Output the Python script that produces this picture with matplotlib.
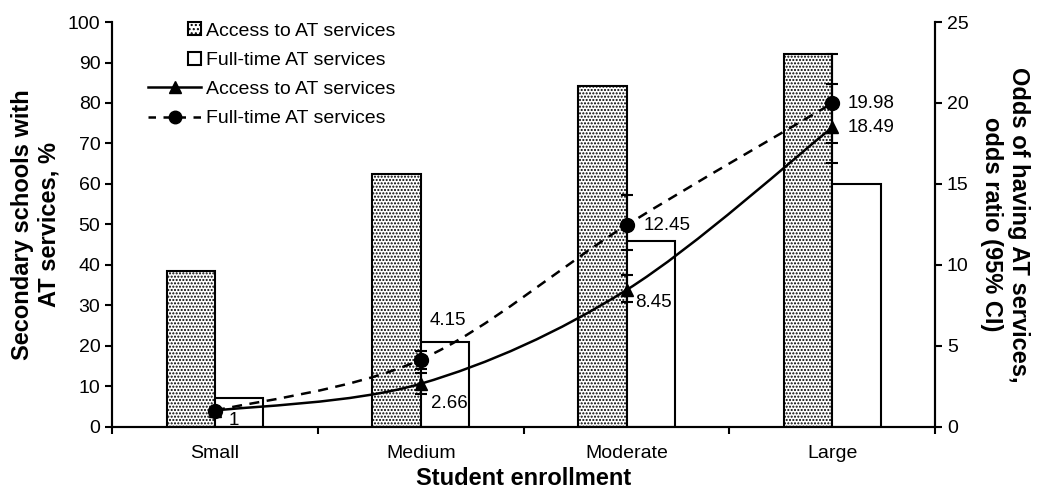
import matplotlib
matplotlib.use("Agg")
import matplotlib.pyplot as plt
import numpy as np
from matplotlib.path import Path
from matplotlib.patches import PathPatch, Patch, Rectangle
from matplotlib.lines import Line2D
from matplotlib.legend_handler import HandlerPatch

plt.rcParams['font.family'] = ['Liberation Sans', 'DejaVu Sans']
plt.rcParams['hatch.color'] = '#808080'
plt.rcParams['hatch.linewidth'] = 1.0

categories = ["Small", "Medium", "Moderate", "Large"]
access_pct = [38.5, 62.5, 84.3, 92.2]
fulltime_pct = [7.0, 21.0, 46.0, 60.0]
access_or = [1.0, 2.66, 8.45, 18.49]
access_lo = [1.0, 2.0, 7.7, 16.3]
access_hi = [1.0, 3.3, 9.4, 21.2]
fulltime_or = [1.0, 4.15, 12.45, 19.98]
fulltime_lo = [1.0, 3.6, 10.9, 17.5]
fulltime_hi = [1.0, 4.7, 14.3, 23.0]
left_ticks = list(range(0, 101, 10))
right_ticks = list(range(0, 26, 5))

fig = plt.figure(figsize=(10.39, 4.90), dpi=100)
ax = fig.add_axes([0.108, 0.129, 0.792, 0.826])
ax2 = ax.twinx()

x = np.arange(len(categories))
w = 0.235
ax.bar(x - w, access_pct, width=w, align='edge', facecolor='white',
       edgecolor='black', linewidth=1.5, hatch='.....')
ax.bar(x, fulltime_pct, width=w, align='edge', facecolor='white',
       edgecolor='black', linewidth=1.5)

ax.set_xlim(-0.5, len(categories) - 0.5)
ax.set_ylim(0, 100)
ax2.set_ylim(0, 25)
ax.set_yticks(left_ticks)
ax2.set_yticks(right_ticks)
ax.set_xticks(np.arange(-0.5, len(categories), 1.0))
ax.set_xticklabels([])
ax.set_xticks(x, minor=True)
ax.set_xticklabels(categories, minor=True)
ax.tick_params(axis='x', which='minor', length=0, pad=13, labelsize=14)
ax.tick_params(axis='x', which='major', length=5, width=1.5, direction='out')
ax.tick_params(axis='y', length=5, width=1.5, direction='out', labelsize=14)
ax2.tick_params(axis='y', length=5, width=1.5, direction='out', labelsize=14)

for a in (ax, ax2):
    a.spines['top'].set_visible(False)
    for s in ('left', 'right', 'bottom'):
        a.spines[s].set_linewidth(1.5)

ax.set_xlabel("Student enrollment", fontsize=17, fontweight='bold', labelpad=4)
ax.set_ylabel("Secondary schools with\nAT services, %", fontsize=17,
              fontweight='bold', labelpad=5)
ax2.set_ylabel("Odds of having AT services,\nodds ratio (95% CI)", fontsize=17,
               fontweight='bold', rotation=270, labelpad=44)


def smooth_path(xs, ys):
    pts = np.column_stack([xs, ys])
    n = len(pts)
    verts = [pts[0]]
    codes = [Path.MOVETO]
    for i in range(n - 1):
        p0 = pts[max(i - 1, 0)]
        p1 = pts[i]
        p2 = pts[i + 1]
        p3 = pts[min(i + 2, n - 1)]
        c1 = p1 + (p2 - p0) / 6.0
        c2 = p2 - (p3 - p1) / 6.0
        verts += [c1, c2, p2]
        codes += [Path.CURVE4] * 3
    return Path(verts, codes)


ax2.add_patch(PathPatch(smooth_path(x, access_or), facecolor='none',
                        edgecolor='black', linewidth=1.8, zorder=3))
ax2.add_patch(PathPatch(smooth_path(x, fulltime_or), facecolor='none',
                        edgecolor='black', linewidth=1.8, linestyle=(0, (4, 3)),
                        zorder=3))

ax2.errorbar(x, access_or,
             yerr=[np.array(access_or) - np.array(access_lo),
                   np.array(access_hi) - np.array(access_or)],
             fmt='^', color='black', markersize=9, capsize=4, elinewidth=1.5,
             capthick=1.5, zorder=4)
ax2.errorbar(x, fulltime_or,
             yerr=[np.array(fulltime_or) - np.array(fulltime_lo),
                   np.array(fulltime_hi) - np.array(fulltime_or)],
             fmt='o', color='black', markersize=10, capsize=4, elinewidth=1.5,
             capthick=1.5, zorder=4)

fmt = lambda v: ("%g" % v)
lab_fs = 13.5
label_specs = [
    (access_or, 0, (10, -7)),
    (access_or, 1, (7, -14)),
    (fulltime_or, 1, (6, 28)),
    (access_or, 2, (6, -9)),
    (fulltime_or, 2, (12, 0)),
    (access_or, 3, (11, 0)),
    (fulltime_or, 3, (11, 0)),
]
for series, i, off in label_specs:
    ax2.annotate(fmt(series[i]), (x[i], series[i]), xytext=off,
                 textcoords='offset points', fontsize=lab_fs, va='center',
                 ha='left')


def small_square(legend, orig_handle, xdescent, ydescent, width, height, fontsize):
    s = height * 0.95
    return Rectangle((width - xdescent - s, -ydescent + (height - s) / 2), s, s)


handles = [
    Patch(facecolor='white', edgecolor='black', hatch='....', linewidth=1.5),
    Patch(facecolor='white', edgecolor='black', linewidth=1.5),
    Line2D([], [], color='black', marker='^', markersize=9, linewidth=1.8),
    Line2D([], [], color='black', marker='o', markersize=9, linewidth=1.8,
           linestyle=(0, (3, 3))),
]
labels = ["Access to AT services", "Full-time AT services",
          "Access to AT services", "Full-time AT services"]
leg = ax2.legend(handles, labels, loc='upper left', bbox_to_anchor=(0.044, 1.0),
                 frameon=False, fontsize=14, handlelength=2.7,
                 handletextpad=0.25, labelspacing=0.6, borderaxespad=0,
                 borderpad=0,
                 handler_map={Patch: HandlerPatch(patch_func=small_square)})

fig.savefig("out.png", dpi=100)
